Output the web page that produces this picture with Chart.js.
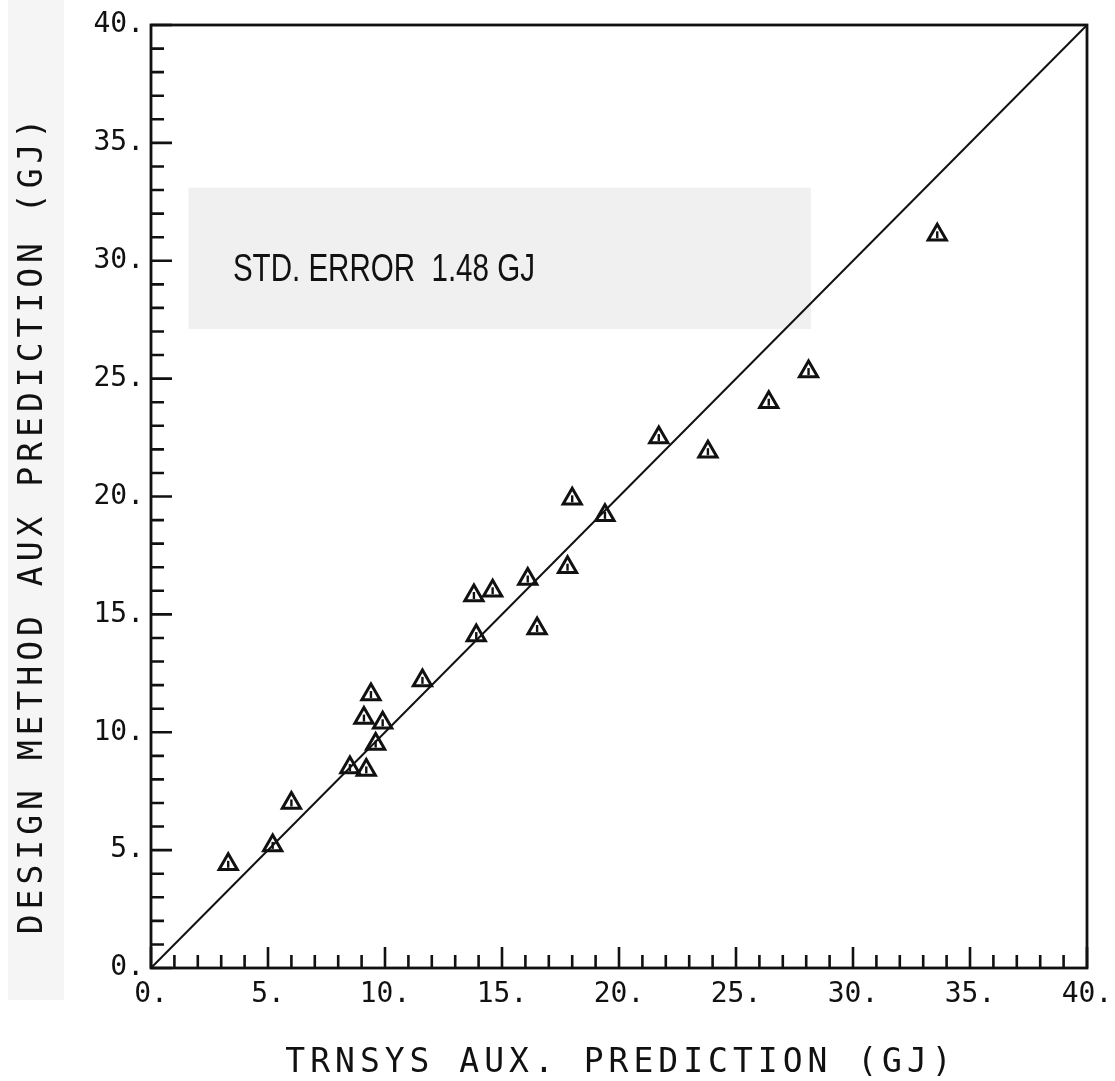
<!DOCTYPE html>
<html>
<head>
<meta charset="utf-8">
<script src="https://cdn.jsdelivr.net/npm/chart.js@4.4.1/dist/chart.umd.min.js"></script>
<style>
  html, body { margin: 0; padding: 0; background: #fff; }
  canvas { display: block; }
</style>
</head>
<body>
<canvas id="grfk" width="1115" height="1081"></canvas>
<script>
// TRNSYS vs design method auxiliary energy (GJ)
const trnsysAux = [3.3, 5.2, 6.0, 8.5, 9.2, 9.1, 9.4, 9.6, 9.9, 11.6, 13.8, 13.9, 14.6, 16.1, 16.5, 17.8, 18.0, 19.4, 21.7, 23.8, 26.4, 28.1, 33.6];
const designAux = [4.4, 5.2, 7.0, 8.5, 8.4, 10.6, 11.6, 9.5, 10.4, 12.2, 15.8, 14.1, 16.0, 16.5, 14.4, 17.0, 19.9, 19.2, 22.5, 21.9, 24.0, 25.3, 31.1];
const diagX = [0, 40];
const diagY = [0, 40];
const axisMin = 0;
const axisMax = 40;
const majorStep = 5;
const xTitle = 'TRNSYS AUX. PREDICTION (GJ)';
const yTitle = 'DESIGN METHOD AUX PREDICTION (GJ)';
const stdErrText = 'STD. ERROR  1.48 GJ';

window.onload = function() {
    const ctx = document.getElementById('grfk').getContext('2d');
    const plotFont = 'DejaVu Sans Mono';

    const pts = trnsysAux.map((v, i) => ({ x: v, y: designAux[i] }));
    const diag = diagX.map((v, i) => ({ x: v, y: diagY[i] }));

    const tickLabel = v => (v % majorStep === 0 ? v + '.' : '');

    // frame, inward ticks, titles, pasted label
    const plotter = {
        id: 'plotter',
        beforeDraw(chart) {
            const c = chart.ctx;
            const { x, y } = chart.scales;
            c.save();
            c.fillStyle = '#ffffff';
            c.fillRect(0, 0, chart.width, chart.height);
            // pasted paper strip behind y title
            c.fillStyle = '#f5f5f5';
            c.fillRect(8, 0, 56, 1000);
            // pasted box behind std error
            c.fillStyle = '#f0f0f0';
            const bx1 = x.getPixelForValue(1.6), bx2 = x.getPixelForValue(28.2);
            const by1 = y.getPixelForValue(33.1), by2 = y.getPixelForValue(27.1);
            c.fillRect(bx1, by1, bx2 - bx1, by2 - by1);
            c.restore();
        },
        afterDraw(chart) {
            const c = chart.ctx;
            const a = chart.chartArea;
            const { x, y } = chart.scales;
            c.save();
            c.strokeStyle = '#111';
            c.lineWidth = 2.8;
            c.strokeRect(a.left, a.top, a.right - a.left, a.bottom - a.top);

            c.lineWidth = 2.6;
            c.beginPath();
            x.ticks.forEach(t => {
                const px = x.getPixelForValue(t.value);
                const len = t.value % majorStep === 0 ? 21 : 13;
                c.moveTo(px, a.bottom);
                c.lineTo(px, a.bottom - len);
            });
            y.ticks.forEach(t => {
                const py = y.getPixelForValue(t.value);
                const len = t.value % majorStep === 0 ? 21 : 13;
                c.moveTo(a.left, py);
                c.lineTo(a.left + len, py);
            });
            c.stroke();

            // axis titles
            c.fillStyle = '#111';
            c.font = '33px "' + plotFont + '"';
            c.letterSpacing = '5px';
            c.textAlign = 'center';
            c.textBaseline = 'middle';
            c.fillText(xTitle, (a.left + a.right) / 2 + 2, 1063);
            c.save();
            c.translate(33, 524);
            c.rotate(-Math.PI / 2);
            c.fillText(yTitle, 0, 0);
            c.restore();

            // std error note
            c.letterSpacing = '0px';
            c.font = '38px "Liberation Sans"';
            c.textAlign = 'left';
            const w = c.measureText(stdErrText).width;
            c.translate(x.getPixelForValue(3.5), y.getPixelForValue(29.6));
            c.scale(302 / w, 1);
            c.fillText(stdErrText, 0, 0);
            c.restore();
        }
    };

    const scaleBase = {
        type: 'linear',
        min: axisMin,
        max: axisMax,
        border: { display: false },
        grid: { display: false, drawTicks: false },
        title: { display: false }
    };

    new Chart(ctx, {
        type: 'scatter',
        data: {
            datasets: [
                {
                    label: 'Design vs TRNSYS',
                    data: pts,
                    pointStyle: 'triangle',
                    pointRadius: 10.5,
                    pointBorderWidth: 3,
                    borderColor: '#111',
                    backgroundColor: 'rgba(0,0,0,0)',
                    order: 1
                },
                {
                    label: 'marks',
                    data: pts,
                    pointStyle: 'line',
                    rotation: 90,
                    pointRadius: 3.5,
                    pointBorderWidth: 2.4,
                    borderColor: '#111',
                    order: 2
                },
                {
                    label: '1:1',
                    data: diag,
                    showLine: true,
                    borderColor: '#111',
                    borderWidth: 2,
                    pointRadius: 0,
                    order: 3
                }
            ]
        },
        options: {
            responsive: false,
            animation: false,
            devicePixelRatio: 1,
            layout: { padding: { top: 25, right: 28, left: 0, bottom: 0 } },
            plugins: {
                legend: { display: false },
                tooltip: { enabled: false },
                title: { display: false }
            },
            scales: {
                x: Object.assign({}, scaleBase, {
                    position: 'bottom',
                    afterFit: s => { s.height = 113; s.paddingLeft = 0; s.paddingRight = 0; },
                    ticks: {
                        stepSize: 1,
                        autoSkip: false,
                        maxRotation: 0,
                        padding: 10,
                        color: '#111',
                        font: { family: plotFont, size: 28 },
                        callback: tickLabel
                    }
                }),
                y: Object.assign({}, scaleBase, {
                    position: 'left',
                    afterFit: s => { s.width = 151; s.paddingTop = 0; s.paddingBottom = 0; },
                    ticks: {
                        stepSize: 1,
                        autoSkip: false,
                        padding: 7,
                        color: '#111',
                        font: { family: plotFont, size: 28 },
                        callback: tickLabel
                    }
                })
            }
        },
        plugins: [plotter]
    });
};
</script>
</body>
</html>
